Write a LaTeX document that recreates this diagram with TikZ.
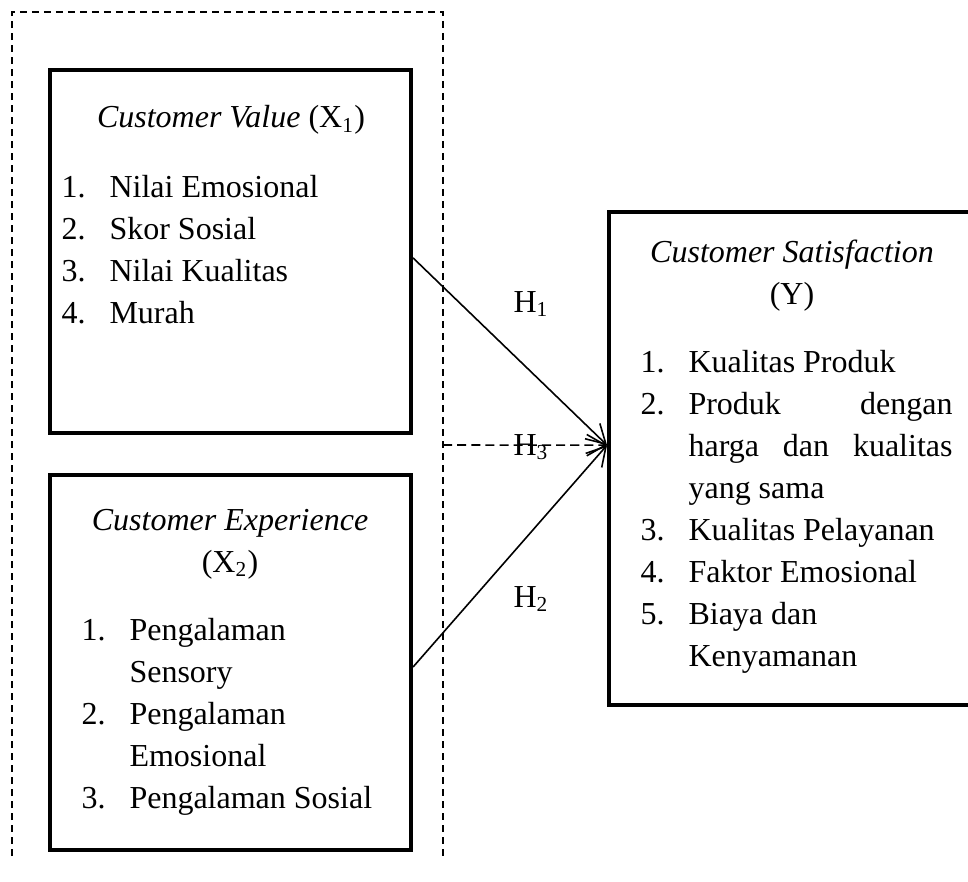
\documentclass[tikz,border=0pt]{standalone}
\usepackage{fontspec}
\setmainfont{Liberation Serif}
\usetikzlibrary{arrows.meta}

\tikzset{
  varbox/.style={draw, line width=1.5pt, inner sep=0pt},
  txt/.style={inner sep=0pt, font=\fontsize{12}{15.75}\selectfont},
  hyp/.style={line width=0.6pt, -{Straight Barb[length=7pt,width=8pt]}},
  frame/.style={line width=0.5pt, dash pattern=on 2.6pt off 1.9pt},
}

\begin{document}
\begin{tikzpicture}[x=0.375pt, y=-0.375pt]
  \clip (0,0) rectangle (968,881);

  % dashed frame round the two independent variables (open at the bottom)
  \draw[frame] (12,856) -- (12,12) -- (443,12) -- (443,856);
  \coordinate (frameR) at (443,445);

  % boxes
  \node[varbox, minimum width=135.4pt, minimum height=136.1pt] (cv) at (230.5,251.5) {};
  \node[varbox, minimum width=135.4pt, minimum height=140.6pt] (ce) at (230.5,662.5) {};
  \node[varbox, minimum width=146.6pt, minimum height=184.9pt] (cs) at (804.5,458.5) {};

  % X1
  \node[txt, anchor=base] (cvTitle) at (231,128) {\textit{Customer Value} (X\textsubscript{1})};
  \node[txt, anchor=base west] (cvList) at (61,197) {%
    \begin{tabular}[t]{@{}p{18pt}@{}l@{}}
      1. & Nilai Emosional\\
      2. & Skor Sosial\\
      3. & Nilai Kualitas\\
      4. & Murah
    \end{tabular}};

  % X2
  \node[txt, anchor=base] (ceTitle) at (230,530) {%
    \begin{tabular}[t]{@{}c@{}}\textit{Customer Experience}\\ (X\textsubscript{2})\end{tabular}};
  \node[txt, anchor=base west] (ceList) at (81,640) {%
    \begin{tabular}[t]{@{}p{18pt}@{}l@{}}
      1. & Pengalaman\\
         & Sensory\\
      2. & Pengalaman\\
         & Emosional\\
      3. & Pengalaman Sosial
    \end{tabular}};

  % Y
  \node[txt, anchor=base] (csTitle) at (792,262) {%
    \begin{tabular}[t]{@{}c@{}}\textit{Customer Satisfaction}\\ (Y)\end{tabular}};
  \node[txt, anchor=base west] (csList) at (640,372) {%
    \begin{tabular}[t]{@{}p{18pt}@{}l@{}}
      1. & Kualitas Produk\\
      2. & \makebox[99pt][s]{Produk dengan}\\
         & \makebox[99pt][s]{harga dan kualitas}\\
         & yang sama\\
      3. & Kualitas Pelayanan\\
      4. & Faktor Emosional\\
      5. & Biaya dan\\
         & Kenyamanan
    \end{tabular}};

  % hypotheses
  \draw[hyp] ([yshift=-2.4pt]cv.east) -- ([yshift=5pt]cs.west);
  \draw[hyp] ([yshift=-1.7pt]ce.east) -- ([yshift=5pt]cs.west);
  \draw[hyp, dash pattern=on 3.4pt off 1.9pt] (frameR) -- ([yshift=5pt]cs.west);

  \node[txt, anchor=base west] (h1) at (513,312) {H\textsubscript{1}};
  \node[txt, anchor=base west] (h2) at (513,607) {H\textsubscript{2}};
  \node[txt, anchor=base west] (h3) at (513,455) {H\textsubscript{3}};
\end{tikzpicture}
\end{document}
